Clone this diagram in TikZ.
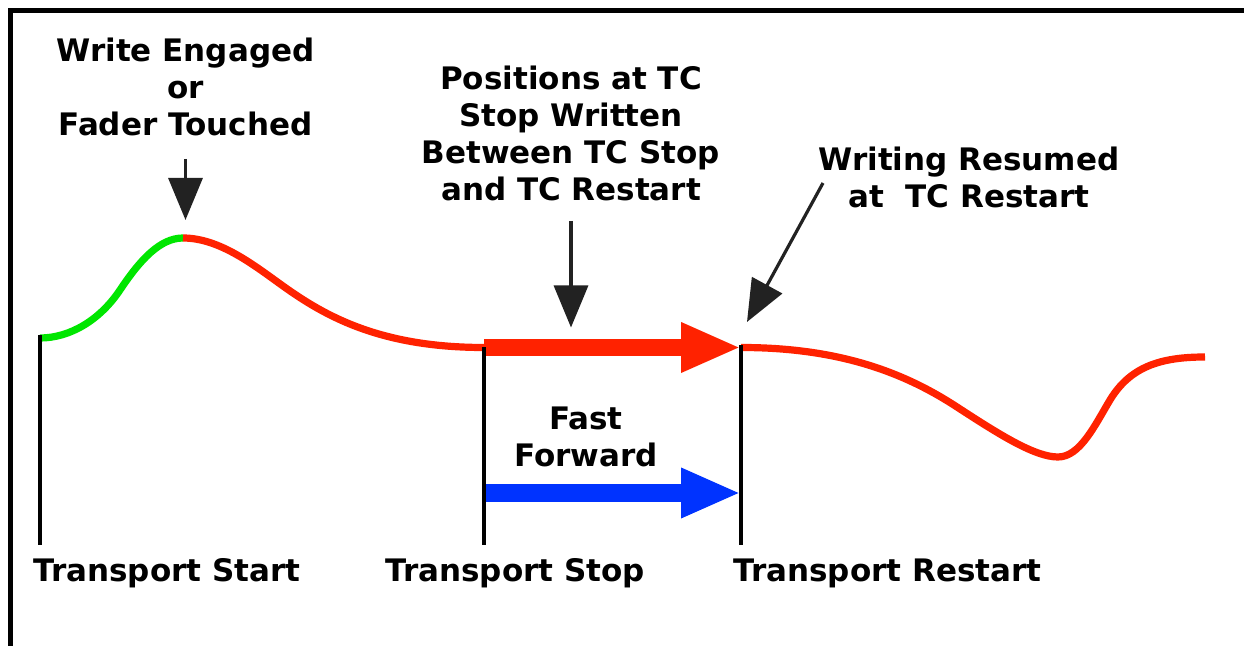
\documentclass[tikz,border=0pt]{standalone}
\usepackage{fontspec}
\setmainfont{DejaVu Sans}
\usetikzlibrary{arrows.meta}
\definecolor{wrred}{RGB}{255,34,0}
\definecolor{wrgreen}{RGB}{0,230,0}
\definecolor{ffblue}{RGB}{0,51,255}
\definecolor{pointcol}{RGB}{34,34,34}

\begin{document}
\begin{tikzpicture}[
  x=0.5pt, y=-0.5pt,
  lbl/.style={font=\bfseries\fontsize{15.5}{18.5}\selectfont, align=center, inner sep=0pt},
  marker/.style={line width=1.6pt, draw=black},
  pointer/.style={-{Triangle[length=21pt,width=17pt]}, line width=1.6pt, draw=pointcol},
  curve/.style={line width=3.6pt},
  bigarrow/.style={-{Triangle[length=30pt,width=23pt]}, line width=8.8pt},
]
  \useasboundingbox (0,0) rectangle (1244,646);
  \draw[line width=2.6pt] (10.5,646) -- (10.5,10.5) -- (1244,10.5);

  % key points on the time line
  \coordinate (start)   at (40,338);
  \coordinate (peak)    at (183,238);
  \coordinate (stop)    at (484,347.5);
  \coordinate (restart) at (741,347.5);
  \coordinate (ffstop)    at (484,493);
  \coordinate (ffrestart) at (741,493);

  % fader curve
  \draw[curve, wrgreen] (start) .. controls (70,338) and (100,320) .. (120,290)
    .. controls (140,260) and (160,238) .. (peak);
  \draw[curve, wrred] (peak) .. controls (220,238) and (255,266) .. (283,286)
    .. controls (325,316) and (380,347.5) .. (stop);
  \draw[curve, wrred] (restart) .. controls (840,347.5) and (905,373) .. (957,407)
    .. controls (1000,435) and (1035,457) .. (1058,457)
    .. controls (1080,457) and (1095,425) .. (1110,400)
    .. controls (1130,367) and (1160,357) .. (1205,357);

  \draw[bigarrow, wrred]  (stop) -- (restart);
  \draw[bigarrow, ffblue] (ffstop) -- (ffrestart);

  % transport markers
  \draw[marker] (40,335) -- (40,545);
  \draw[marker] (stop) -- (stop |- 0,545);
  \draw[marker] (741,345) -- (741,545);

  \node[lbl, anchor=base west] (tstart)   at (33,582)  {Transport Start};
  \node[lbl, anchor=base west] (tstop)    at (385,582) {Transport Stop};
  \node[lbl, anchor=base west] (trestart) at (733,582) {Transport Restart};

  \node[lbl, anchor=north] (engaged) at (185.5,38)
    {Write Engaged\\or\\Fader Touched};
  \node[lbl, anchor=north] (positions) at (571,66)
    {Positions at TC\\Stop Written\\Between TC Stop\\and TC Restart};
  \node[lbl, anchor=north] (resumed) at (969,147)
    {Writing Resumed\\at~ TC Restart};
  \node[lbl, anchor=north] (ff) at (586,407) {Fast\\Forward};

  \draw[pointer, shorten <=11pt, shorten >=9pt]
    (engaged.south) -- (engaged.south |- peak);
  \draw[pointer, shorten <=9.5pt, shorten >=10pt]
    (positions.south) -- (positions.south |- stop);
  \coordinate (resumedtail) at (823,183);
  \coordinate (resumedtip)  at (747,322);
  \draw[pointer] (resumedtail) -- (resumedtip);
\end{tikzpicture}
\end{document}
